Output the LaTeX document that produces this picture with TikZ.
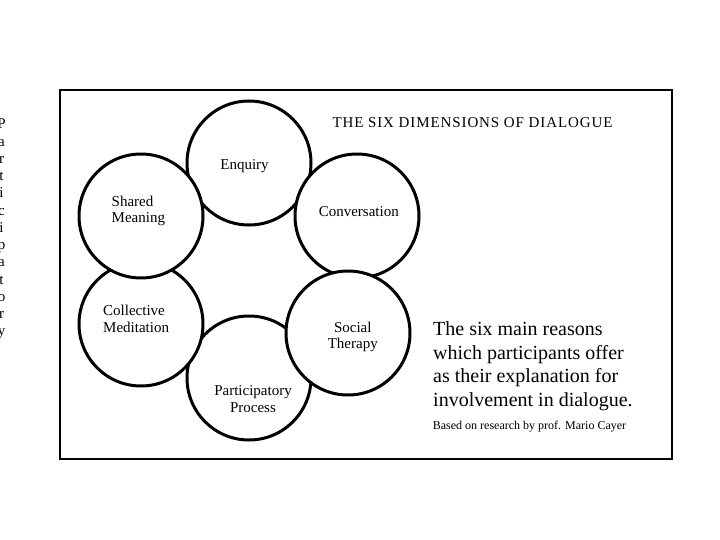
\documentclass[tikz,border=0pt]{standalone}
\usepackage{fontspec}
\setmainfont{Liberation Serif}

\begin{document}
\begin{tikzpicture}[x=1pt,y=-1pt,
  dimension/.style={draw,circle,line width=3pt,fill=white,minimum size=124pt,inner sep=0pt},
  dimtext/.style={inner sep=0pt,font=\fontsize{15}{16.6}\selectfont}]
\useasboundingbox (0,0) rectangle (720,540);
% Side text
\node[inner sep=0pt,align=center,font=\fontsize{15}{17.25}\selectfont] (side) at (1.5,229)
  {P\\a\\r\\t\\i\\c\\i\\p\\a\\t\\o\\r\\y};
% Frame
\draw[line width=1.2pt] (60,90) rectangle (672,459);
% Circles
\node[dimension] (participatory) at (249,378) {};
\node[dimension] (enquiry) at (249,163) {};
\node[dimension] (conversation) at (357,216) {};
\node[dimension] (social) at (348,333) {};
\node[dimension] (collective) at (141,324) {};
\node[dimension] (shared) at (141,216) {};
% Labels
\node[dimtext] (enquiry-text) at (244.5,166) {Enquiry};
\node[dimtext,align=left,anchor=west] (shared-text) at (111.5,211) {Shared\\Meaning};
\node[dimtext] (conversation-text) at (358.8,212) {Conversation};
\node[dimtext,align=left,anchor=west] (collective-text) at (103,319) {Collective\\Meditation};
\node[dimtext,align=center] (social-text) at (352.8,337) {Social\\Therapy};
\node[dimtext,align=center] (participatory-text) at (253,399) {Participatory\\Process};
% Title and notes
\node[inner sep=0pt,font=\fontsize{15}{16.8}\selectfont\addfontfeature{LetterSpace=6}] (title) at (472.5,123)
  {THE SIX DIMENSIONS OF DIALOGUE};
\node[inner sep=0pt,align=left,anchor=west,font=\fontsize{20}{23.5}\selectfont] (reasons) at (433,366)
  {The six main reasons\\which participants offer\\as their explanation for\\involvement in dialogue.};
\node[inner sep=0pt,anchor=west,font=\fontsize{12}{14}\selectfont] (source) at (432.7,427)
  {Based on research by prof. Mario Cayer};
\end{tikzpicture}
\end{document}
